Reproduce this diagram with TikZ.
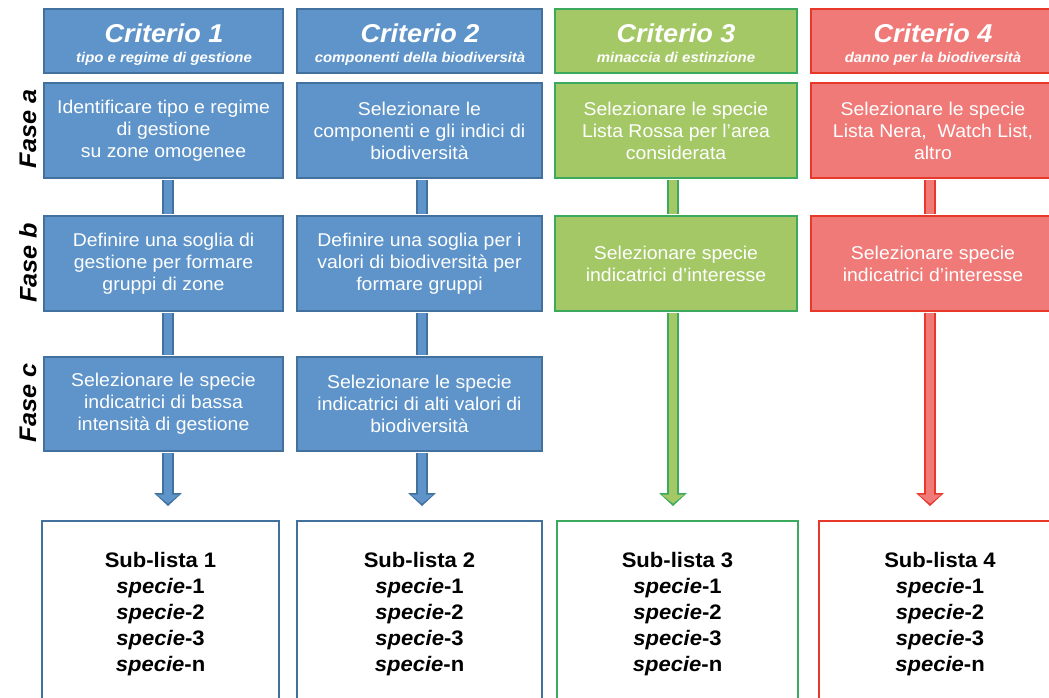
\documentclass[tikz,border=0pt]{standalone}
\usepackage{fontspec}
\setmainfont{Liberation Sans}[FakeStretch=1.05]
\usetikzlibrary{arrows.meta}
\definecolor{bF}{HTML}{5E94C9}
\definecolor{bB}{HTML}{41719C}
\definecolor{gF}{HTML}{A4C866}
\definecolor{gB}{HTML}{3BAA5E}
\definecolor{rF}{HTML}{F07A78}
\definecolor{rB}{HTML}{E8382A}
\tikzset{
  box/.style 2 args={draw=#2, fill=#1, line width=2pt, rectangle, inner sep=0pt,
    text=white, align=center, font=\fontsize{18.5}{22}\selectfont},
  crit/.style={text=white, inner sep=0pt, font=\fontsize{25.8}{26}\selectfont\bfseries\itshape},
  subt/.style={text=white, inner sep=0pt, font=\fontsize{14.2}{15}\selectfont\bfseries\itshape},
  listbox/.style={draw=#1, fill=white, line width=2pt, rectangle, inner sep=0pt,
    text=black, align=center, font=\fontsize{21}{26}\selectfont\bfseries},
  fase/.style={rotate=90, inner sep=0pt, font=\fontsize{24}{24}\selectfont\bfseries\itshape},
  stemout/.style={draw=#1, line width=12pt},
  stemin/.style={draw=#1, line width=8pt},
  arrout/.style={draw=#1, line width=12pt, shorten >=14pt,
    -{Triangle[width=28pt,length=13pt,line width=0pt]}},
  arrin/.style={draw=#1, line width=8pt, shorten >=16.5pt,
    -{Triangle[width=23pt,length=9pt,line width=0pt]}},
}
\newcommand{\spe}[1]{\textit{specie}-#1}
\begin{document}
\begin{tikzpicture}[x=1pt,y=-1pt]
\useasboundingbox (0,0) rectangle (1049,698);
\clip (0,0) rectangle (1049,698);

% Fase labels
\node[fase] (fa) at (28,129) {Fase a};
\node[fase] (fb) at (28,263) {Fase b};
\node[fase] (fc) at (28,403) {Fase c};

% headers
\node[box={bF}{bB}, minimum width=239pt, minimum height=64pt] (h1) at (163.5,41) {};
\node[box={bF}{bB}, minimum width=245pt, minimum height=64pt] (h2) at (419.5,41) {};
\node[box={gF}{gB}, minimum width=242pt, minimum height=64pt] (h3) at (676,41) {};
\node[box={rF}{rB}, minimum width=244pt, minimum height=64pt] (h4) at (933,41) {};
\node[crit, anchor=base] (h1t) at (164,43) {Criterio 1};
\node[subt, anchor=base] (h1s) at (164,62.5) {tipo e regime di gestione};
\node[crit, anchor=base] (h2t) at (420,43) {Criterio 2};
\node[subt, anchor=base] (h2s) at (420,62.5) {componenti della biodiversità};
\node[crit, anchor=base] (h3t) at (676,43) {Criterio 3};
\node[subt, anchor=base] (h3s) at (676,62.5) {minaccia di estinzione};
\node[crit, anchor=base] (h4t) at (933,43) {Criterio 4};
\node[subt, anchor=base] (h4s) at (933,62.5) {danno per la biodiversità};

% Fase a
\node[box={bF}{bB}, minimum width=239pt, minimum height=95pt] (a1) at (163.5,130.5)
  {Identificare tipo e regime\\di gestione\\su zone omogenee};
\node[box={bF}{bB}, minimum width=245pt, minimum height=95pt] (a2) at (419.5,130.5)
  {Selezionare le\\componenti e gli indici di\\biodiversità};
\node[box={gF}{gB}, minimum width=242pt, minimum height=95pt] (a3) at (676,130.5)
  {Selezionare le specie\\Lista Rossa per l’area\\considerata};
\node[box={rF}{rB}, minimum width=244pt, minimum height=95pt] (a4) at (933,130.5)
  {Selezionare le specie\\Lista Nera,\ \ Watch List,\\altro};

% Fase b
\node[box={bF}{bB}, minimum width=239pt, minimum height=95pt] (b1) at (163.5,263.5)
  {Definire una soglia di\\gestione per formare\\gruppi di zone};
\node[box={bF}{bB}, minimum width=245pt, minimum height=95pt] (b2) at (419.5,263.5)
  {Definire una soglia per i\\valori di biodiversità per\\formare gruppi};
\node[box={gF}{gB}, minimum width=242pt, minimum height=95pt] (b3) at (676,263.5)
  {Selezionare specie\\indicatrici d’interesse};
\node[box={rF}{rB}, minimum width=244pt, minimum height=95pt] (b4) at (933,263.5)
  {Selezionare specie\\indicatrici d’interesse};

% Fase c
\node[box={bF}{bB}, minimum width=239pt, minimum height=94pt] (c1) at (163.5,404)
  {Selezionare le specie\\indicatrici di bassa\\intensità di gestione};
\node[box={bF}{bB}, minimum width=245pt, minimum height=94pt] (c2) at (419.5,404)
  {Selezionare le specie\\indicatrici di alti valori di\\biodiversità};

% Sub-lists
\node[listbox=bB, minimum width=237pt, minimum height=186pt] (s1) at (160.5,614)
  {Sub-lista 1\\\spe{1}\\\spe{2}\\\spe{3}\\\spe{n}};
\node[listbox=bB, minimum width=245pt, minimum height=186pt] (s2) at (419.5,614)
  {Sub-lista 2\\\spe{1}\\\spe{2}\\\spe{3}\\\spe{n}};
\node[listbox=gB, minimum width=241pt, minimum height=186pt] (s3) at (677.5,614)
  {Sub-lista 3\\\spe{1}\\\spe{2}\\\spe{3}\\\spe{n}};
\node[listbox=rB, minimum width=242pt, minimum height=186pt] (s4) at (940,614)
  {Sub-lista 4\\\spe{1}\\\spe{2}\\\spe{3}\\\spe{n}};

% connector columns
\coordinate (x1) at (168,0);
\coordinate (x2) at (422,0);
\coordinate (x3) at (673,0);
\coordinate (x4) at (930,0);

% stems
\foreach \u/\v/\x/\c in {a1/b1/x1/b, b1/c1/x1/b, a2/b2/x2/b, b2/c2/x2/b, a3/b3/x3/g, a4/b4/x4/r}{
  \draw[stemout=\c B] ([yshift=-1pt]\u.south -| \x) -- ([yshift=1pt]\v.north -| \x);
  \draw[stemin=\c F] ([yshift=-1pt]\u.south -| \x) -- ([yshift=1pt]\v.north -| \x);
}
% arrows
\foreach \u/\v/\x/\c in {c1/s1/x1/b, c2/s2/x2/b, b3/s3/x3/g, b4/s4/x4/r}{
  \draw[arrout=\c B] ([yshift=-1pt]\u.south -| \x) -- (\v.north -| \x);
  \draw[arrin=\c F] ([yshift=-1pt]\u.south -| \x) -- (\v.north -| \x);
}
\end{tikzpicture}
\end{document}
